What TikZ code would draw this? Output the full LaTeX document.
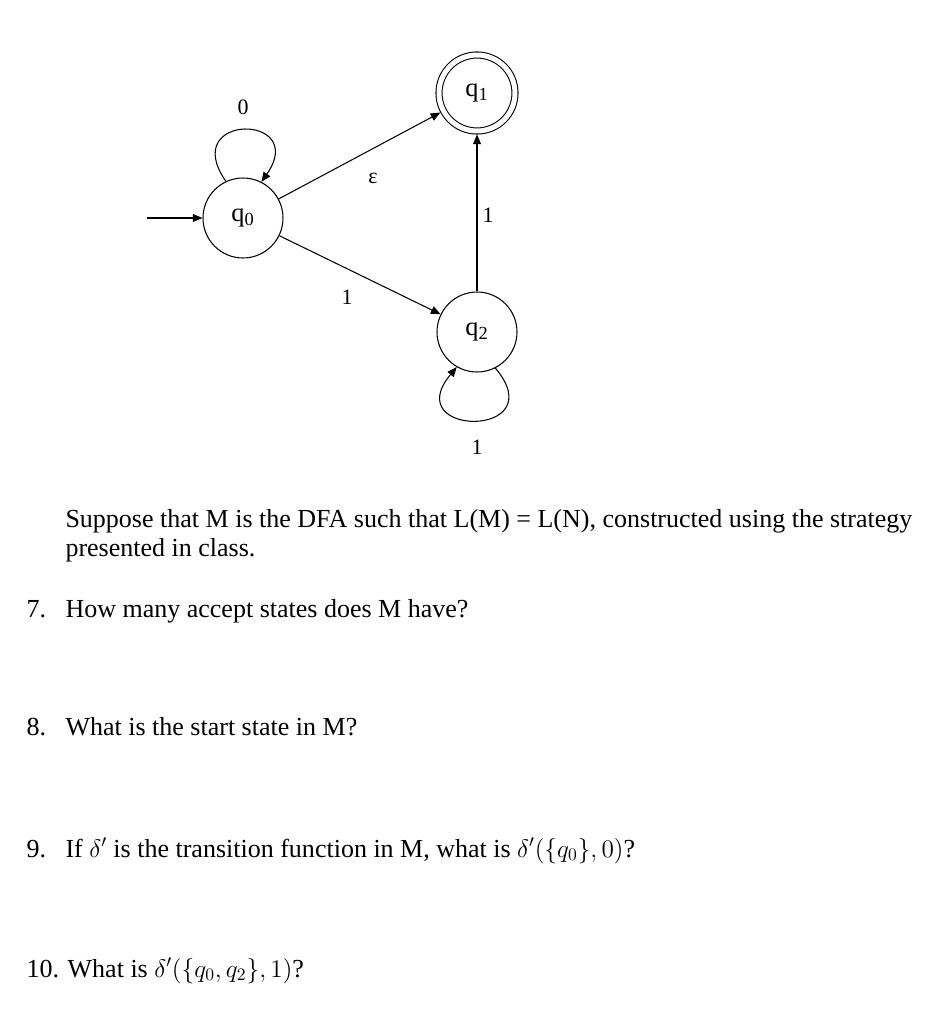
\documentclass[tikz,border=0pt]{standalone}
\usepackage{fontspec}
\setmainfont{Liberation Serif}
\usetikzlibrary{arrows.meta}

\begin{document}
\begin{tikzpicture}[
  x=0.02cm, y=0.02cm, line width=0.6pt,
  state/.style={draw, circle, minimum size=1.6cm, inner sep=0pt, font=\fontsize{15}{17}\selectfont},
  accept/.style={state, minimum size=1.52cm, double, double distance=0.1cm, outer sep=0.07cm},
  elabel/.style={inner sep=1pt, font=\fontsize{12.5}{14}\selectfont},
  prose/.style={anchor=base west, inner sep=0pt, align=left, font=\fontsize{14.8}{16.5}\selectfont},
  arrow/.style={-{Triangle[length=5.5pt, width=4.5pt]}}
]
\useasboundingbox (0,0) rectangle (946,-1024);

% the automaton
\node[state] (q0) at (243,-218) {q\textsubscript{0}};
\node[accept] (q1) at (477,-93) {q\textsubscript{1}};
\node[state] (q2) at (477,-332) {q\textsubscript{2}};
\coordinate (start) at (147,-218);

\draw[arrow] (start) -- (q0);
\draw[arrow] (q0) -- (q1);
\draw[arrow] (q0) -- (q2);
\draw[arrow] (q2) -- (q1);
\draw[arrow] (q0.115) .. controls +(125:84) and +(55:84) .. (q0.63);
\draw[arrow] (q2.297) .. controls +(-50:92) and +(-130:92) .. (q2.240);

\node[elabel] (l00) at (243,-107) {0};
\node[elabel] (l01) at (373,-178) {ε};
\node[elabel] (l02) at (347,-297) {1};
\node[elabel] (l21) at (488,-215) {1};
\node[elabel] (l22) at (477,-447) {1};

% the questions
\node[prose] (intro) at (65,-556) {Suppose that M is the DFA such that L(M) = L(N), constructed using the strategy\\presented in class.};
\node[prose] (n7) at (26,-617) {7.};
\node[prose] (t7) at (65,-617) {How many accept states does M have?};
\node[prose] (n8) at (26,-735) {8.};
\node[prose] (t8) at (65,-735) {What is the start state in M?};
\node[prose] (n9) at (26,-857) {9.};
\node[prose] (t9) at (65,-857) {If $\delta'$ is the transition function in M, what is $\delta'(\{q_0\},0)$?};
\node[prose] (t10) at (26,-977) {10. What is $\delta'(\{q_0,q_2\},1)$?};
\end{tikzpicture}
\end{document}
